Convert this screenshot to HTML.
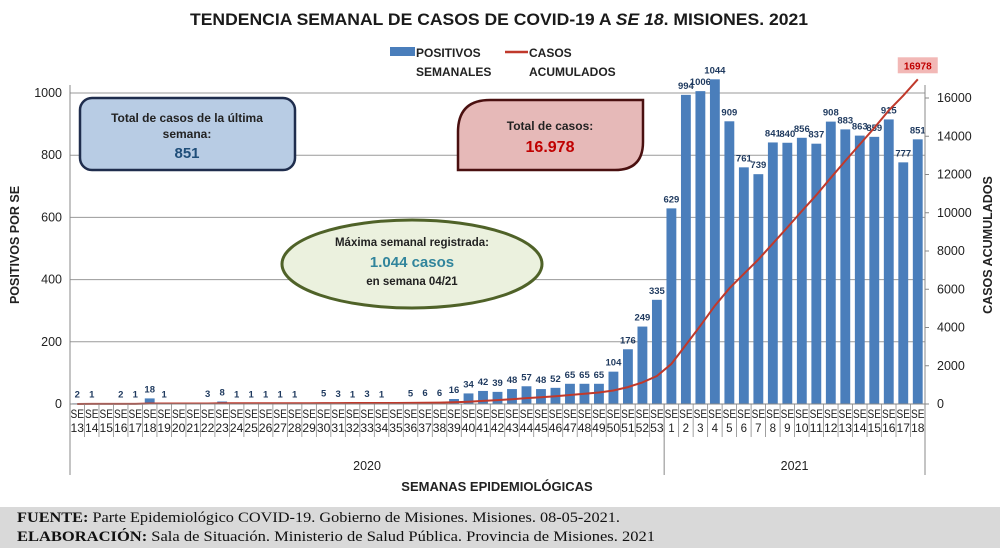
<!DOCTYPE html>
<html><head><meta charset="utf-8"><style>
body{margin:0;background:#fff;}
svg{display:block;font-family:"Liberation Sans",sans-serif;}
</style></head><body>
<svg id="chart" width="1000" height="552" xmlns="http://www.w3.org/2000/svg">
<rect x="0" y="0" width="1000" height="552" fill="#fff"/>
<text x="190" y="25" textLength="618" lengthAdjust="spacingAndGlyphs" font-size="17" font-weight="bold" fill="#1a1a1a">TENDENCIA SEMANAL DE CASOS DE COVID-19 A <tspan font-style="italic">SE 18</tspan>. MISIONES. 2021</text>
<g id="grid"></g>
<g id="bars"></g>
<g id="line"></g>
<g id="axes"></g>
<g font-size="12" font-weight="bold" fill="#222">
<rect x="390" y="47" width="25" height="9" fill="#4a7ebb"/>
<text x="416" y="57">POSITIVOS</text>
<text x="416" y="76">SEMANALES</text>
<line x1="505" y1="52" x2="528" y2="52" stroke="#c0392b" stroke-width="2.5"/>
<text x="529" y="57">CASOS</text>
<text x="529" y="76">ACUMULADOS</text>
</g>
<g>
<rect x="80" y="98" width="215" height="72" rx="12" fill="#b8cce4" stroke="#1f2d4d" stroke-width="2.5"/>
<text x="187" y="122" text-anchor="middle" font-size="12" font-weight="bold" fill="#222">Total de casos de la última</text>
<text x="187" y="138" text-anchor="middle" font-size="12" font-weight="bold" fill="#222">semana:</text>
<text x="187" y="158" text-anchor="middle" font-size="15" font-weight="bold" fill="#1f4e79">851</text>
</g>
<g>
<path d="M 490 100 L 643 100 L 643 142 Q 643 170 615 170 L 458 170 L 458 132 Q 458 100 490 100 Z" fill="#e6b9b8" stroke="#4a1010" stroke-width="2.5"/>
<text x="550" y="130" text-anchor="middle" font-size="12" font-weight="bold" fill="#222">Total de casos:</text>
<text x="550" y="152" text-anchor="middle" font-size="16" font-weight="bold" fill="#c00000">16.978</text>
</g>
<g>
<ellipse cx="412" cy="264" rx="130" ry="44" fill="#ebf1de" stroke="#4f6228" stroke-width="3"/>
<text x="412" y="246" text-anchor="middle" font-size="11.5" font-weight="bold" fill="#222">Máxima semanal registrada:</text>
<text x="412" y="267" text-anchor="middle" font-size="15" font-weight="bold" fill="#31859c">1.044 casos</text>
<text x="412" y="285" text-anchor="middle" font-size="11.5" font-weight="bold" fill="#222">en semana 04/21</text>
</g>
<text transform="translate(19,245) rotate(-90)" text-anchor="middle" font-size="12.5" font-weight="bold" fill="#222">POSITIVOS POR SE</text>
<text transform="translate(992,245) rotate(-90)" text-anchor="middle" font-size="12.5" font-weight="bold" fill="#222">CASOS ACUMULADOS</text>
<text x="497" y="491" text-anchor="middle" font-size="13" font-weight="bold" fill="#222">SEMANAS EPIDEMIOLÓGICAS</text>
<g font-family="Liberation Serif, serif" font-size="15" fill="#111">
<rect x="0" y="507" width="1000" height="41" fill="#d9d9d9"/>
<text x="17" y="522" textLength="603" lengthAdjust="spacingAndGlyphs"><tspan font-weight="bold">FUENTE:</tspan> Parte Epidemiológico COVID-19. Gobierno de Misiones. Misiones. 08-05-2021.</text>
<text x="17" y="541" textLength="638" lengthAdjust="spacingAndGlyphs"><tspan font-weight="bold">ELABORACIÓN:</tspan> Sala de Situación. Ministerio de Salud Pública. Provincia de Misiones. 2021</text>
</g>
</svg>
<script>
const weeks2020 = [13,14,15,16,17,18,19,20,21,22,23,24,25,26,27,28,29,30,31,32,33,34,35,36,37,38,39,40,41,42,43,44,45,46,47,48,49,50,51,52,53];
const weeks2021 = [1,2,3,4,5,6,7,8,9,10,11,12,13,14,15,16,17,18];
const cases2020 = [2,1,0,2,1,18,1,0,0,3,8,1,1,1,1,1,0,5,3,1,3,1,0,5,6,6,16,34,42,39,48,57,48,52,65,65,65,104,176,249,335];
const cases2021 = [629,994,1006,1044,909,761,739,841,840,856,837,908,883,863,859,915,777,851];
const leftTicks = [0,200,400,600,800,1000];
const rightTicks = [0,2000,4000,6000,8000,10000,12000,14000,16000];

const NS='http://www.w3.org/2000/svg';
const X0=70, X1=925, Y0=404;
const weekly = cases2020.concat(cases2021);
const labels = weeks2020.concat(weeks2021);
const n = weekly.length, cw=(X1-X0)/n;
const yL = v => Y0 - v*(311/1000);
const yR = v => Y0 - v*(306/16000);
const xC = i => X0 + (i+0.5)*cw;
function mk(tag, attrs, parent, text){const e=document.createElementNS(NS,tag);for(const k in attrs)e.setAttribute(k,attrs[k]);if(text!==undefined)e.textContent=text;parent.appendChild(e);return e;}
const grid=document.getElementById('grid'), bars=document.getElementById('bars'), line=document.getElementById('line'), axes=document.getElementById('axes');
leftTicks.forEach(t=>{
  if(t>0){const g=mk('line',{x1:X0,x2:X1,y1:yL(t),y2:yL(t),stroke:'#9a9a9a','stroke-width':1},grid);
  
  }
  const tl=mk('text',{x:X0-8,y:yL(t)+4,'text-anchor':'end','font-size':12.5,fill:'#222'},axes,String(t));
  
  
});
rightTicks.forEach(t=>{
  const tl=mk('text',{x:X1+12,y:yR(t)+4,'font-size':12.5,fill:'#222'},axes,String(t));
  
  
  mk('line',{x1:X1,x2:X1+4,y1:yR(t),y2:yR(t),stroke:'#888'},axes);
});
mk('line',{x1:X0,x2:X0,y1:85,y2:Y0,stroke:'#888'},axes);
mk('line',{x1:X1,x2:X1,y1:85,y2:Y0,stroke:'#888'},axes);
mk('line',{x1:X0,x2:X1,y1:Y0,y2:Y0,stroke:'#888'},axes);
weekly.forEach((v,i)=>{
  const bw=cw*0.68, y=yL(v);
  const b=mk('rect',{x:xC(i)-bw/2,y:y,width:bw,height:Y0-y,fill:'#4a7ebb'},bars);
  
  
  if(v>0){const l=mk('text',{x:xC(i),y:y-6,'text-anchor':'middle','font-size':9.5,'font-weight':'bold',fill:'#1f3a5f'},bars,String(v));
  
  }
  const s=mk('text',{x:xC(i),y:418,'text-anchor':'middle','font-size':11.5,fill:'#222','textLength':cw-1,lengthAdjust:'spacingAndGlyphs'},axes,'SE');
  
  
  const nl=mk('text',{x:xC(i),y:432,'text-anchor':'middle','font-size':11.5,fill:'#222'},axes,String(labels[i]));
  if(String(labels[i]).length>1){nl.setAttribute('textLength',cw-1);nl.setAttribute('lengthAdjust','spacingAndGlyphs');}
  
  
  mk('line',{x1:X0+i*cw,x2:X0+i*cw,y1:Y0,y2:437,stroke:'#888','stroke-width':0.8},axes);
});
mk('line',{x1:X1,x2:X1,y1:Y0,y2:475,stroke:'#888'},axes);
mk('line',{x1:X0,x2:X0,y1:Y0,y2:475,stroke:'#888'},axes);
const split=X0+cases2020.length*cw;
mk('line',{x1:split,x2:split,y1:Y0,y2:475,stroke:'#888'},axes);
const y1t=mk('text',{x:(X0+split)/2,y:470,'text-anchor':'middle','font-size':12.5,fill:'#222'},axes,'2020');


const y2t=mk('text',{x:(split+X1)/2,y:470,'text-anchor':'middle','font-size':12.5,fill:'#222'},axes,'2021');


let cum=0; const pts=weekly.map((v,i)=>{cum+=v;return [xC(i),yR(cum)];});
const p=mk('path',{d:'M'+pts.map(q=>q[0].toFixed(1)+','+q[1].toFixed(1)).join(' L'),fill:'none',stroke:'#c0392b','stroke-width':2},line);


const last=pts[pts.length-1];
mk('rect',{x:last[0]-20,y:last[1]-22,width:40,height:16,fill:'#f2b8b6'},line);
const ll=mk('text',{x:last[0],y:last[1]-10,'text-anchor':'middle','font-size':10,'font-weight':'bold',fill:'#c00000'},line,String(cum));


</script>
</body></html>
